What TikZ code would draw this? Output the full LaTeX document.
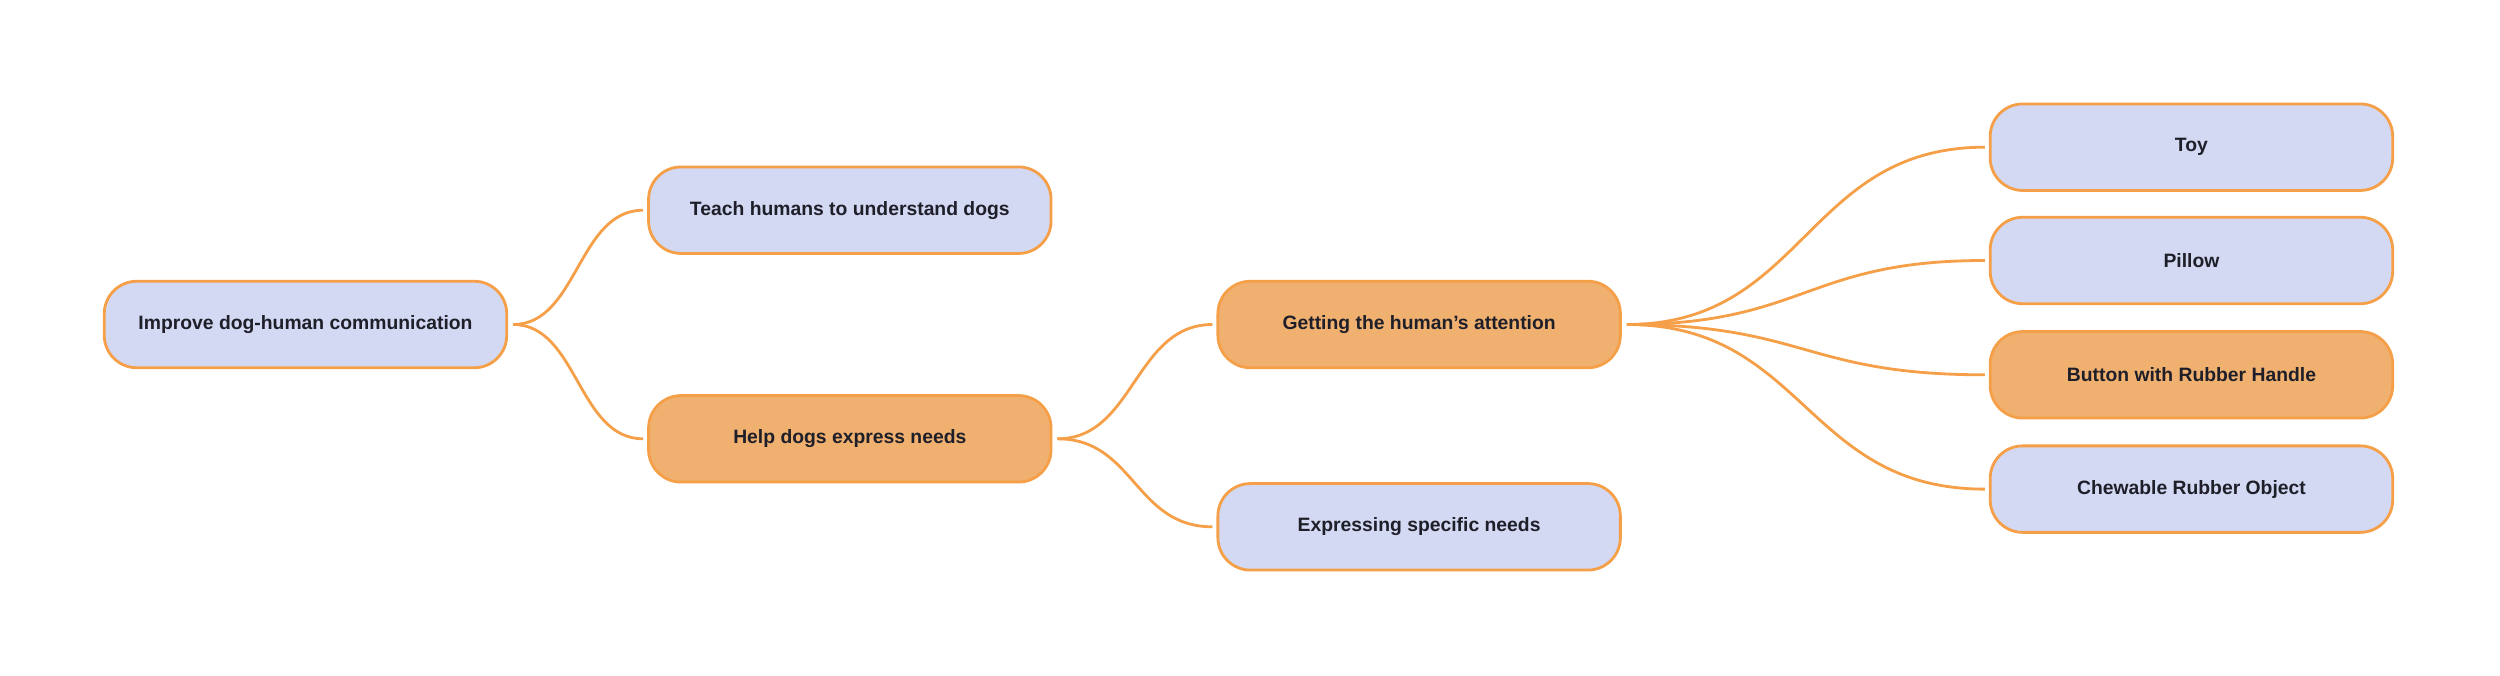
\documentclass[tikz,border=0pt]{standalone}
\usepackage{fontspec}
\setmainfont{Liberation Sans}
\usepackage{tikz}
\usetikzlibrary{positioning}
\definecolor{lav}{HTML}{D3D9F3}
\definecolor{peach}{HTML}{F0B070}
\definecolor{edgeor}{HTML}{F5A048}
\definecolor{ink}{HTML}{1F1F29}
\tikzstyle{idea} = [rectangle, draw=edgeor, line width=1.6pt, fill=lav,
    minimum width=8.05cm, text centered, minimum height=1.73cm, rounded corners=0.65cm,
    text=ink, font=\fontsize{11}{13}\selectfont\bfseries]
\tikzstyle{hot} = [idea, fill=peach]
\tikzstyle{link} = [draw=edgeor, line width=1.6pt, shorten <=0.1cm, shorten >=0.08cm]
\begin{document}
\begin{tikzpicture}
	\useasboundingbox (-6.11,-7.01) rectangle (43.89,6.49);
	\node [idea] (root) {Improve dog-human communication};
	\node [idea, above right=0.5cm and 2.78cm of root] (teach) {Teach humans to understand dogs};
	\node [hot, below right=0.5cm and 2.78cm of root] (help) {Help dogs express needs};
	\node [hot, above right=0.5cm and 3.28cm of help] (attn) {Getting the human’s attention};
	\node [idea, below=2.26cm of attn] (spec) {Expressing specific needs};
	\node [idea, above right=1.76cm and 7.34cm of attn] (toy) {Toy};
	\node [idea, below=0.48cm of toy] (pillow) {Pillow};
	\node [hot, below=0.5cm of pillow] (button) {Button with Rubber Handle};
	\node [idea, below=0.5cm of button] (chew) {Chewable Rubber Object};

	\path [link] (root.east) .. controls +(1.39,0) and +(-1.39,0) .. (teach.west);
	\path [link] (root.east) .. controls +(1.39,0) and +(-1.39,0) .. (help.west);
	\path [link] (help.east) .. controls +(1.64,0) and +(-1.64,0) .. (attn.west);
	\path [link] (help.east) .. controls +(1.64,0) and +(-1.64,0) .. (spec.west);
	\foreach \leaf in {toy,pillow,button,chew}
		\path [link] (attn.east) .. controls +(3.67,0) and +(-3.67,0) .. (\leaf.west);
\end{tikzpicture}
\end{document}
